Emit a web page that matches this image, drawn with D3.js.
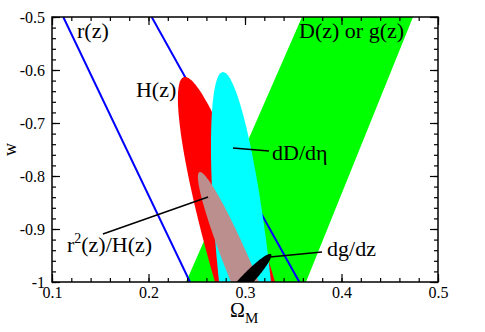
<!DOCTYPE html>
<html>
<head>
<meta charset="utf-8">
<script src="https://cdn.jsdelivr.net/npm/d3@7"></script>
<style>
  body { margin: 0; background: #fff; }
  text { font-family: "Liberation Serif", "Times New Roman", serif; }
</style>
</head>
<body>
<div id="chart"></div>
<script>
// axis ticks
const xTicks = [0.1, 0.2, 0.3, 0.4, 0.5];
const yTicks = [-1, -0.9, -0.8, -0.7, -0.6, -0.5];

// fiducial model, all ellipses are centred on it
const fiducialOm = 0.3;
const fiducialW = -1;

// ellipses: topmost point and half width at the fiducial w
const ellipseNames = ["H(z)", "dD/deta", "r2(z)/H(z)", "dg/dz"];
const ellipseTopOm = [0.2378, 0.2772, 0.2534, 0.3259];
const ellipseTopW = [-0.613, -0.604, -0.7925, -0.947];
const ellipseHalfWidth = [0.0311, 0.0269, 0.0145, 0.0088];

// r(z) band edges (straight lines from w=-0.5 to w=-1)
const rLineTopOm = [0.1117, 0.2033];
const rLineBottomOm = [0.243, 0.3563];

// D(z) or g(z) band corners
const growthOm = [0.3591, 0.4741, 0.3632, 0.2389];
const growthW = [-0.5, -0.5, -1, -1];

const colors = {"H(z)": "#ff0000", "dD/deta": "#00ffff", "r2(z)/H(z)": "#bc8f8f", "dg/dz": "#000000"};

// set the dimensions and margins of the graph
const margin = {top: 17, right: 47, bottom: 50, left: 52},
  width = 485 - margin.left - margin.right,
  height = 332 - margin.top - margin.bottom;

const svg = d3.select("#chart")
  .append("svg")
    .attr("width", 485)
    .attr("height", 332)
  .append("g")
    .attr("transform", `translate(${margin.left},${margin.top})`);

const x = d3.scaleLinear().domain([0.1, 0.5]).range([0, width]);
const y = d3.scaleLinear().domain([-1, -0.5]).range([height, 0]);

svg.append("clipPath").attr("id", "clip")
  .append("rect").attr("width", width).attr("height", height);

const plot = svg.append("g").attr("clip-path", "url(#clip)");

// green band
plot.append("path")
  .attr("d", d3.line()(growthOm.map((d, i) => [x(d), y(growthW[i])])) + "Z")
  .style("fill", "#00ff00");

// blue r(z) lines
plot.selectAll("rline")
  .data(rLineTopOm)
  .join("line")
    .attr("x1", d => x(d))
    .attr("y1", y(-0.5))
    .attr("x2", (d, i) => x(rLineBottomOm[i]))
    .attr("y2", y(-1))
    .style("stroke", "#0000ff")
    .style("stroke-width", 2);

// ellipses built from two conjugate semi-diameters
function ellipsePath(i) {
  const ax = ellipseTopOm[i] - fiducialOm, ay = ellipseTopW[i] - fiducialW;
  const bx = ellipseHalfWidth[i];
  const pts = d3.range(0, 361, 2).map(function(a) {
    const t = a * Math.PI / 180;
    return [x(fiducialOm + Math.cos(t) * ax + Math.sin(t) * bx), y(fiducialW + Math.cos(t) * ay)];
  });
  return d3.line()(pts) + "Z";
}

plot.selectAll("ellipse")
  .data(ellipseNames)
  .join("path")
    .attr("d", (d, i) => ellipsePath(i))
    .style("fill", d => colors[d]);

// frame
svg.append("rect")
  .attr("width", width).attr("height", height)
  .style("fill", "none").style("stroke", "black").style("stroke-width", 1.5);

const minorX = d3.range(0.1, 0.5001, 0.02).map(d => +d.toFixed(2));
const minorY = d3.range(-1, -0.4999, 0.02).map(d => +d.toFixed(2));

function styleAxis(g) {
  g.select(".domain").remove();
  g.selectAll("line").style("stroke", "black").style("stroke-width", 1.2);
  g.selectAll("text").style("font-family", "Liberation Serif, serif").style("font-size", "16px").style("fill", "black");
}

// bottom
svg.append("g").attr("transform", `translate(0,${height})`)
  .call(d3.axisBottom(x).tickValues(xTicks).tickSize(-8).tickPadding(5).tickFormat(d3.format("")))
  .call(styleAxis);
svg.append("g").attr("transform", `translate(0,${height})`)
  .call(d3.axisBottom(x).tickValues(minorX).tickSize(-4).tickFormat(""))
  .call(styleAxis);
// top
svg.append("g")
  .call(d3.axisTop(x).tickValues(xTicks).tickSize(-8).tickFormat(""))
  .call(styleAxis);
svg.append("g")
  .call(d3.axisTop(x).tickValues(minorX).tickSize(-4).tickFormat(""))
  .call(styleAxis);
// left
svg.append("g")
  .call(d3.axisLeft(y).tickValues(yTicks).tickSize(-8).tickPadding(7).tickFormat(d => d === -1 ? "-1" : d3.format(".1f")(d).replace("−", "-")))
  .call(styleAxis);
svg.append("g")
  .call(d3.axisLeft(y).tickValues(minorY).tickSize(-4).tickFormat(""))
  .call(styleAxis);
// right
svg.append("g").attr("transform", `translate(${width},0)`)
  .call(d3.axisRight(y).tickValues(yTicks).tickSize(-8).tickFormat(""))
  .call(styleAxis);
svg.append("g").attr("transform", `translate(${width},0)`)
  .call(d3.axisRight(y).tickValues(minorY).tickSize(-4).tickFormat(""))
  .call(styleAxis);

// axis titles
svg.append("text")
  .attr("transform", `translate(-36,${height / 2}) rotate(-90)`)
  .style("text-anchor", "middle")
  .style("font-size", "18px")
  .text("w");

const xt = svg.append("text")
  .attr("x", x(0.3) - 15)
  .attr("y", height + 35)
  .style("font-size", "20px")
  .text("Ω");
xt.append("tspan").attr("dy", 6).style("font-size", "15px").text("M");

// labels (data coordinates)
const labelFont = "22px";
function label(om, w, txt) {
  return svg.append("text")
    .attr("x", x(om)).attr("y", y(w))
    .style("font-size", labelFont)
    .text(txt);
}
label(0.1259, -0.5396, "r(z)");
label(0.356, -0.5396, "D(z) or g(z)");
label(0.187, -0.651, "H(z)");
label(0.328, -0.770, "dD/dη");
label(0.385, -0.951, "dg/dz");
const r2 = label(0.1155, -0.943, "r");
r2.append("tspan").attr("dy", -9).style("font-size", "14px").text("2");
r2.append("tspan").attr("dy", 9).text("(z)/H(z)");

// pointer lines
const pointers = [
  [[0.2876, -0.7472], [0.3249, -0.7528]],
  [[0.1528, -0.9094], [0.2617, -0.8396]],
  [[0.3259, -0.9528], [0.3798, -0.9434]]
];
svg.selectAll("pointer")
  .data(pointers)
  .join("line")
    .attr("x1", d => x(d[0][0])).attr("y1", d => y(d[0][1]))
    .attr("x2", d => x(d[1][0])).attr("y2", d => y(d[1][1]))
    .style("stroke", "black")
    .style("stroke-width", 1.5);
</script>
</body>
</html>
